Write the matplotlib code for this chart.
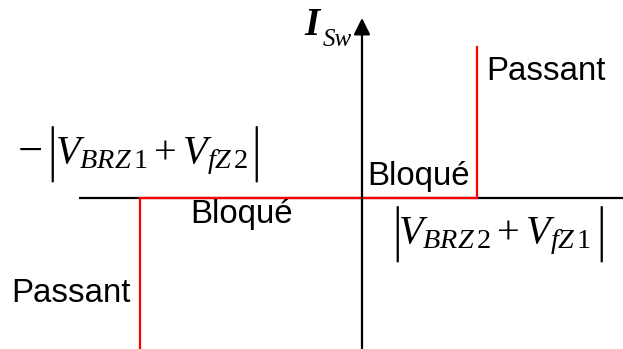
import matplotlib
matplotlib.use('Agg')
import matplotlib.pyplot as plt

plt.rcParams['mathtext.fontset'] = 'custom'
plt.rcParams['mathtext.rm'] = 'Liberation Serif'
plt.rcParams['mathtext.it'] = 'Liberation Serif:italic'
plt.rcParams['mathtext.bf'] = 'Liberation Serif:bold'

# I-V characteristic of the switch (schematic units)
v_sw = [-2.22, -2.22, 1.15, 1.15]
i_sw = [-1.51, 0.0, 0.0, 1.51]

# axes extents
x_axis = [-2.83, 2.61]
y_axis = [-1.51, 1.80]

state_labels = ['Passant', 'Bloqué', 'Bloqué', 'Passant']
threshold_inner = [r'$V_{BRZ\,1}+V_{fZ\,2}$', r'$V_{BRZ\,2}+V_{fZ\,1}$']
y_label = ['I', 'Sw']

fig = plt.figure(figsize=(6.23, 3.49), dpi=100)
ax = fig.add_axes([0, 0, 1, 1])
ax.set_xlim(-3.62, 2.61)
ax.set_ylim(-1.51, 1.98)
ax.axis('off')

ax.plot(x_axis, [0, 0], color='black', lw=1.6, solid_capstyle='butt')
ax.annotate('', xy=(0, y_axis[1]), xytext=(0, y_axis[0]),
            arrowprops=dict(arrowstyle='-|>,head_length=0.4,head_width=0.2',
                            mutation_scale=25, lw=1.6, color='black',
                            shrinkA=0, shrinkB=0))
ax.plot(v_sw, i_sw, color='#ff0000', lw=1.6, solid_joinstyle='miter')

txt = dict(family='Liberation Sans', fontsize=23.8, va='baseline', ha='left')
ax.text(1.24, 1.18, state_labels[3], **txt)
ax.text(0.05, 0.13, state_labels[2], **txt)
ax.text(-1.72, -0.25, state_labels[1], **txt)
ax.text(-3.51, -1.04, state_labels[0], **txt)

# threshold voltages: |...| drawn with tall thin bars
bar = dict(fontsize=40, math_fontfamily='cm', ha='center', va='baseline')
ax.text(-3.45, 0.35, r'$-$', fontsize=32, ha='left', va='baseline')
ax.text(-3.13, 0.31, r'$|$', **bar)
ax.text(-3.07, 0.35, threshold_inner[0], fontsize=29, ha='left', va='baseline')
ax.text(-1.09, 0.31, r'$|$', **bar)

ax.text(0.32, -0.49, r'$|$', **bar)
ax.text(0.36, -0.45, threshold_inner[1], fontsize=29, ha='left', va='baseline')
ax.text(2.36, -0.49, r'$|$', **bar)

ax.text(-0.58, 1.63, y_label[0], family='Liberation Serif', fontsize=28,
        style='italic', weight='bold', ha='left', va='baseline')
ax.text(-0.39, 1.52, y_label[1], family='Liberation Serif', fontsize=18,
        style='italic', ha='left', va='baseline')

fig.savefig('out.png', dpi=100)
